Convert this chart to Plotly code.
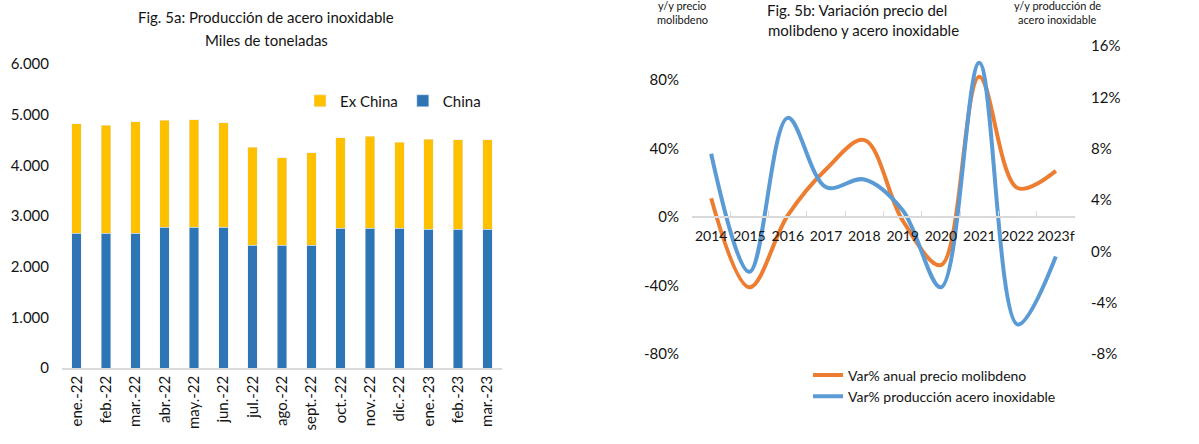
import plotly.graph_objects as go

# ---------- Data: Fig 5a ----------
months = ["ene.-22", "feb.-22", "mar.-22", "abr.-22", "may.-22", "jun.-22", "jul.-22",
          "ago.-22", "sept.-22", "oct.-22", "nov.-22", "dic.-22", "ene.-23", "feb.-23", "mar.-23"]
china = [2660, 2660, 2660, 2780, 2780, 2780, 2420, 2420, 2420, 2760, 2760, 2760, 2740, 2740, 2740]
total = [4820, 4795, 4860, 4885, 4895, 4840, 4360, 4150, 4250, 4540, 4570, 4460, 4510, 4505, 4505]
ex_china = [t - c for t, c in zip(total, china)]

# ---------- Data: Fig 5b ----------
years = ["2014", "2015", "2016", "2017", "2018", "2019", "2020", "2021", "2022", "2023f"]
moly_price_var = [0.11, -0.41, 0.01, 0.28, 0.45, -0.02, -0.28, 0.82, 0.17, 0.27]
steel_prod_var = [0.076, -0.016, 0.104, 0.050, 0.056, 0.032, -0.028, 0.147, -0.057, -0.004]

# tick labels (hyphen minus as in the original)
left_tickvals = [-0.8, -0.4, 0.0, 0.4, 0.8]
left_ticktext = ["-80%", "-40%", "0%", "40%", "80%"]
right_tickvals = [-0.08, -0.04, 0.0, 0.04, 0.08, 0.12, 0.16]
right_ticktext = ["-8%", "-4%", "0%", "4%", "8%", "12%", "16%"]

W, H = 1199, 444
def px(x): return x / W
def py(y): return 1 - y / H

FONT = "Lato"
TXT = "#141414"

fig = go.Figure()

fig.add_trace(go.Bar(x=months, y=china, name="China", marker_color="#2E75B6",
                     xaxis="x", yaxis="y", legend="legend"))
fig.add_trace(go.Bar(x=months, y=ex_china, name="Ex China", marker_color="#FFC000",
                     xaxis="x", yaxis="y", legend="legend"))

fig.add_trace(go.Scatter(x=years, y=moly_price_var, name="Var% anual precio molibdeno",
                         mode="lines", line=dict(color="#ED7D31", width=4, shape="spline", smoothing=1.0),
                         xaxis="x2", yaxis="y2", legend="legend2"))
fig.add_trace(go.Scatter(x=years, y=steel_prod_var, name="Var% producción acero inoxidable",
                         mode="lines", line=dict(color="#5B9BD5", width=4, shape="spline", smoothing=1.0),
                         xaxis="x2", yaxis="y3", legend="legend2"))

y2_lo, y2_hi = -0.8, 1.0
dom2 = [py(354), py(46)]
zero_pos = dom2[0] + (0 - y2_lo) / (y2_hi - y2_lo) * (dom2[1] - dom2[0])

fig.update_layout(
    width=W, height=H,
    margin=dict(l=0, r=0, t=0, b=0, autoexpand=False),
    paper_bgcolor="white", plot_bgcolor="white",
    separators=",.",
    barmode="stack", bargap=0.68,
    font=dict(family=FONT, color=TXT, size=15),
    xaxis=dict(domain=[px(62), px(502)], anchor="y", type="category", automargin=False,
               showline=True, linecolor="#d9d9d9", linewidth=1.5, ticks="",
               tickangle=-90, tickfont=dict(size=15, color=TXT), showgrid=False),
    yaxis=dict(domain=[py(368), py(64)], anchor="x", range=[0, 6000], dtick=1000,
               tickformat=",d", showgrid=False, zeroline=False, showline=False, automargin=False,
               ticklabelstandoff=12, tickfont=dict(size=15, color=TXT)),
    xaxis2=dict(domain=[px(692), px(1075)], anchor="free", position=zero_pos, type="category",
                range=[-0.5, len(years) - 0.5],
                automargin=False, tickangle=0, ticklabelstandoff=6,
                showline=True, linecolor="#d9d9d9", linewidth=1.5, ticks="inside",
                tickson="boundaries", ticklen=5, tickcolor="#d9d9d9",
                showgrid=False, tickfont=dict(size=14, color=TXT)),
    yaxis2=dict(domain=dom2, anchor="x2", range=[y2_lo, y2_hi],
                tickmode="array", tickvals=left_tickvals, ticktext=left_ticktext,
                showgrid=False, zeroline=False, showline=False, automargin=False,
                ticklabelstandoff=12, tickfont=dict(size=15, color=TXT)),
    yaxis3=dict(domain=dom2, anchor="x2", overlaying="y2", side="right",
                range=[-0.08, 0.16], tickmode="array", tickvals=right_tickvals, ticktext=right_ticktext,
                showgrid=False, zeroline=False, showline=False, automargin=False,
                ticklabelstandoff=15, tickfont=dict(size=15, color=TXT)),
    legend=dict(orientation="h", x=px(300), y=py(101), xanchor="left", yanchor="middle",
                traceorder="reversed", font=dict(size=15, color=TXT), bgcolor="rgba(0,0,0,0)",
                itemwidth=30),
    legend2=dict(orientation="v", x=px(808), y=py(386), xanchor="left", yanchor="middle",
                 font=dict(size=14, color=TXT), bgcolor="rgba(0,0,0,0)", tracegroupgap=0),
    showlegend=True,
)

ann = [
    dict(text="Fig. 5a: Producción de acero inoxidable", x=px(266), y=py(17)),
    dict(text="Miles de toneladas", x=px(266), y=py(40)),
    dict(text="Fig. 5b: Variación precio del", x=px(857), y=py(10)),
    dict(text="molibdeno y acero inoxidable", x=px(863), y=py(30)),
]
for a in ann:
    fig.add_annotation(xref="paper", yref="paper", x=a["x"], y=a["y"], text=a["text"],
                       showarrow=False, xanchor="center", yanchor="middle",
                       font=dict(family=FONT, size=15, color=TXT))

small = [
    dict(text="y/y precio", x=px(682), y=py(6)),
    dict(text="molibdeno", x=px(682), y=py(19)),
    dict(text="y/y producción de", x=px(1057), y=py(6)),
    dict(text="acero inoxidable", x=px(1057), y=py(19)),
]
for a in small:
    fig.add_annotation(xref="paper", yref="paper", x=a["x"], y=a["y"], text=a["text"],
                       showarrow=False, xanchor="center", yanchor="middle",
                       font=dict(family=FONT, size=11, color=TXT))

fig.write_html("out.html", config={"displayModeBar": False},
               post_script="document.body.style.margin='0';")
